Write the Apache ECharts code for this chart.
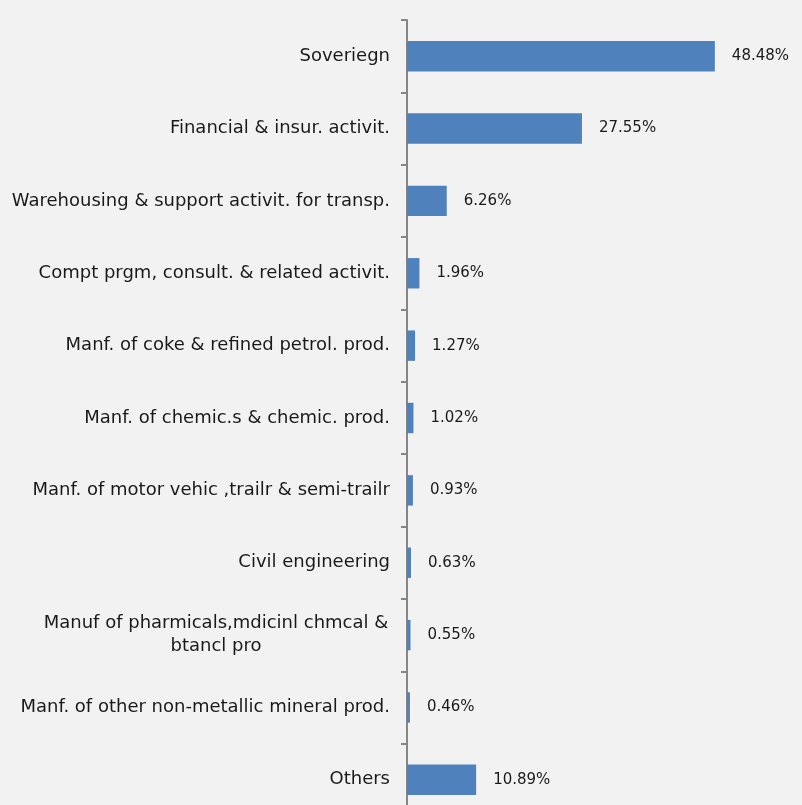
<!DOCTYPE html>
<html>
<head>
<meta charset="utf-8">
<script src="https://cdn.jsdelivr.net/npm/echarts@6/dist/echarts.min.js"></script>
<style>
  html, body { margin: 0; padding: 0; background: #F2F2F2; overflow: hidden; }
  #chart { width: 802px; height: 830px; }
</style>
</head>
<body>
<div id="chart"></div>
<script>
// Exposure by sector, share of total (%)
const sectors = [
  'Soveriegn',
  'Financial & insur. activit.',
  'Warehousing & support activit. for transp.',
  'Compt prgm, consult. & related activit.',
  'Manf. of coke & refined petrol. prod.',
  'Manf. of chemic.s & chemic. prod.',
  'Manf. of motor vehic ,trailr & semi-trailr',
  'Civil engineering',
  'Manuf of pharmicals,mdicinl chmcal &\nbtancl pro',
  'Manf. of other non-metallic mineral prod.',
  'Others'
];
const shares = [48.48, 27.55, 6.26, 1.96, 1.27, 1.02, 0.93, 0.63, 0.55, 0.46, 10.89];

const FONT = 'DejaVu Sans';
const TEXT = '#1a1a1a';
const chart = echarts.init(document.getElementById('chart'));
chart.setOption({
  backgroundColor: '#F2F2F2',
  animation: false,
  grid: { left: 407, top: 20, width: 381, height: 796 },
  xAxis: {
    type: 'value', min: 0, max: 60,
    show: false
  },
  yAxis: {
    type: 'category',
    data: sectors,
    inverse: true,
    axisLine: { show: true, lineStyle: { color: '#868686', width: 2 } },
    axisTick: { show: true, length: 6, lineStyle: { color: '#868686', width: 2 } },
    axisLabel: {
      margin: 17,
      color: TEXT,
      fontFamily: FONT,
      fontSize: 18,
      formatter: function (v) {
        if (v.indexOf('\n') >= 0) {
          return v.split('\n').map(function (s) { return '{c|' + s + '}'; }).join('\n');
        }
        return v;
      },
      rich: {
        c: { width: 348, align: 'center', fontFamily: FONT, fontSize: 18, color: TEXT, lineHeight: 23 }
      }
    },
    splitLine: { show: false }
  },
  series: [{
    type: 'bar',
    data: shares,
    barCategoryGap: '58%',
    itemStyle: { color: '#4F81BD' },
    label: {
      show: true,
      position: 'right',
      distance: 17,
      color: TEXT,
      fontFamily: FONT,
      fontSize: 15,
      formatter: function (p) { return p.value.toFixed(2) + '%'; }
    }
  }]
});
</script>
</body>
</html>
